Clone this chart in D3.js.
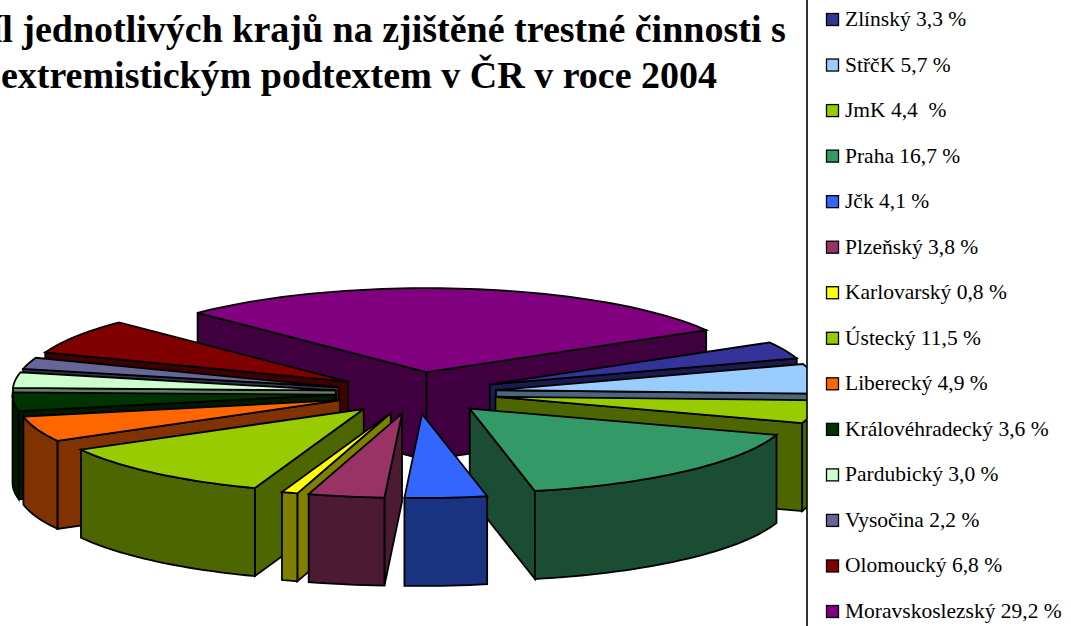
<!DOCTYPE html>
<html>
<head>
<meta charset="utf-8">
<script src="https://cdn.jsdelivr.net/npm/d3@7"></script>
<style>
html, body { margin: 0; padding: 0; background: #fff; overflow: hidden; }
text { font-family: "Liberation Serif", serif; fill: #000; }
</style>
</head>
<body>
<div id="chart"></div>
<script>
// Data, clockwise from the first slice
var regions = ["Zlínský", "StřčK", "JmK", "Praha", "Jčk", "Plzeňský", "Karlovarský", "Ústecký",
               "Liberecký", "Královéhradecký", "Pardubický", "Vysočina", "Olomoucký", "Moravskoslezský"];
var shares = [3.3, 5.7, 4.4, 16.7, 4.1, 3.8, 0.8, 11.5, 4.9, 3.6, 3.0, 2.2, 6.8, 29.2];
var legendLabels = ["Zlínský 3,3 %", "StřčK 5,7 %", "JmK 4,4  %", "Praha 16,7 %", "Jčk 4,1 %", "Plzeňský 3,8 %",
                    "Karlovarský 0,8 %", "Ústecký 11,5 %", "Liberecký 4,9 %", "Královéhradecký 3,6 %",
                    "Pardubický 3,0 %", "Vysočina 2,2 %", "Olomoucký 6,8 %", "Moravskoslezský 29,2 %"];
var sliceColors = ["#333399", "#99ccff", "#99cc00", "#339966", "#3366ff", "#993366", "#ffff00", "#99cc00",
                   "#ff6600", "#003300", "#ccffcc", "#666699", "#800000", "#800080"];
var titleLines = ["Podíl jednotlivých krajů na zjištěné trestné činnosti s",
                  "extremistickým podtextem v ČR v roce 2004"];

var width = 1071, height = 626;

// Pie geometry
var cx = 416, cy = 393;
var radiusX = 323, radiusY = 84;
var explode = 0.25;
var depth = 88;
var firstAngle = 60 * Math.PI / 180;
var legendLeft = 807;

var svg = d3.select("#chart").append("svg")
    .attr("width", width)
    .attr("height", height)
    .style("display", "block");

// ground plane (unit circle) to screen
var xScale = d3.scaleLinear().domain([-1, 1]).range([cx - radiusX, cx + radiusX]);
var yScale = d3.scaleLinear().domain([-1, 1]).range([cy - radiusY, cy + radiusY]);

var pie = d3.pie()
    .sort(null)
    .value(function(d) { return d; })
    .startAngle(firstAngle)
    .endAngle(firstAngle + 2 * Math.PI);

var line = d3.line();

var slices = pie(shares).map(function(d, i) {
    d.color = sliceColors[i];
    var c = d3.rgb(sliceColors[i]);
    d.dark = d3.rgb(c.r / 2, c.g / 2, c.b / 2).formatHex();
    d.mid = (d.startAngle + d.endAngle) / 2;
    d.ox = explode * Math.sin(d.mid);
    d.oy = -explode * Math.cos(d.mid);
    return d;
});

function rimPoint(d, a, drop) {
    return [xScale(d.ox + Math.sin(a)), yScale(d.oy - Math.cos(a)) + (drop || 0)];
}
function apex(d, drop) {
    return [xScale(d.ox), yScale(d.oy) + (drop || 0)];
}
function arcAngles(a0, a1) {
    var n = Math.max(2, Math.ceil((a1 - a0) / 0.03));
    return d3.range(n + 1).map(function(k) { return a0 + (a1 - a0) * k / n; });
}
function radialWall(d, a) {
    return line([apex(d), rimPoint(d, a), rimPoint(d, a, depth), apex(d, depth)]) + "Z";
}

var pieGroup = svg.append("g").attr("class", "pie");

// back slices first
var drawOrder = slices.slice().sort(function(a, b) {
    return Math.cos(b.mid) - Math.cos(a.mid);
});

drawOrder.forEach(function(d) {
    var g = pieGroup.append("g");
    var face = function(path, fill) {
        g.append("path")
            .attr("d", path)
            .attr("fill", fill)
            .attr("stroke", "#000")
            .attr("stroke-width", 1.8)
            .attr("stroke-linejoin", "miter");
    };

    // side walls facing the viewer
    if (Math.sin(d.startAngle) < 0) face(radialWall(d, d.startAngle), d.dark);
    if (Math.sin(d.endAngle) > 0) face(radialWall(d, d.endAngle), d.dark);

    // outer rim, only the part on the front half of the circle
    [[Math.PI / 2, 3 * Math.PI / 2], [Math.PI / 2 + 2 * Math.PI, 3 * Math.PI / 2 + 2 * Math.PI]].forEach(function(front) {
        var a0 = Math.max(d.startAngle, front[0]), a1 = Math.min(d.endAngle, front[1]);
        if (a1 <= a0) return;
        var angles = arcAngles(a0, a1);
        var upper = angles.map(function(a) { return rimPoint(d, a); });
        var lower = angles.slice().reverse().map(function(a) { return rimPoint(d, a, depth); });
        face(line(upper.concat(lower)) + "Z", d.dark);
    });

    // top face
    var top = [apex(d)].concat(arcAngles(d.startAngle, d.endAngle).map(function(a) { return rimPoint(d, a); }));
    face(line(top) + "Z", d.color);
});

// Title, wider than the page on the left like in the original
svg.append("g").selectAll("text")
    .data(titleLines)
    .enter()
    .append("text")
    .attr("x", function(d, i) { return i ? 359 : 357; })
    .attr("y", function(d, i) { return 42 + i * 46; })
    .attr("text-anchor", "middle")
    .attr("font-size", 38)
    .attr("font-weight", "bold")
    .text(function(d) { return d; });

// Legend box covers whatever of the pie runs under it
svg.append("rect")
    .attr("x", legendLeft)
    .attr("y", -2)
    .attr("width", width - legendLeft + 2)
    .attr("height", height + 4)
    .attr("fill", "#fff")
    .attr("stroke", "#000")
    .attr("stroke-width", 1.6);

var legendY = d3.scalePoint().domain(regions).range([19.5, 611.5]);

var legendRow = svg.append("g").selectAll("g")
    .data(regions)
    .enter()
    .append("g")
    .attr("transform", function(d) { return "translate(0," + legendY(d) + ")"; });

legendRow.append("rect")
    .attr("x", 826.5)
    .attr("y", -6)
    .attr("width", 12)
    .attr("height", 12)
    .attr("fill", function(d, i) { return sliceColors[i]; })
    .attr("stroke", "#000")
    .attr("stroke-width", 1.3);

legendRow.append("text")
    .attr("x", 845)
    .attr("y", 6.5)
    .attr("font-size", 21.5)
    .attr("xml:space", "preserve")
    .style("white-space", "pre")
    .text(function(d, i) { return legendLabels[i]; });
</script>
</body>
</html>
